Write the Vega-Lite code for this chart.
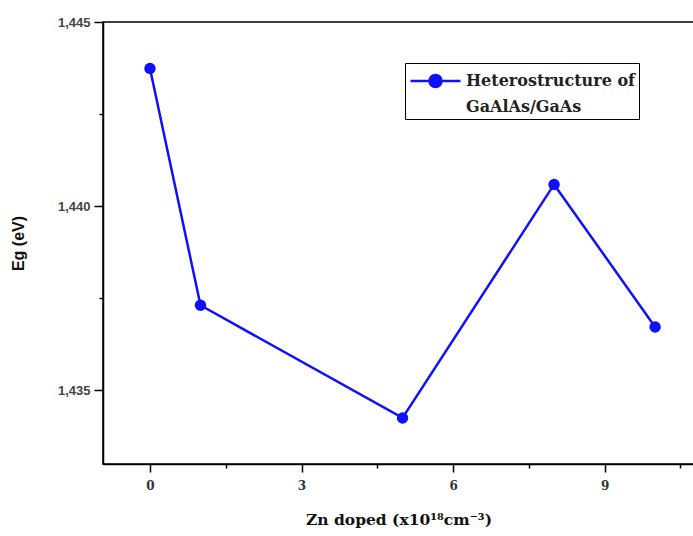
{
  "$schema": "https://vega.github.io/schema/vega-lite/v6.json",
  "autosize": {"type": "none"},
  "padding": {"left": 103, "top": 22, "right": 0, "bottom": 72},
  "width": 591,
  "height": 442,
  "background": "white",
  "config": {
    "view": {"stroke": "black", "strokeWidth": 1.5},
    "axis": {"grid": false, "domainColor": "black", "domainWidth": 1.5, "tickColor": "black", "tickWidth": 1.5}
  },
  "data": {
    "values": [
      {"zn": 0, "eg": 1.44374, "series": "Heterostructure of GaAlAs/GaAs"},
      {"zn": 1, "eg": 1.43731, "series": "Heterostructure of GaAlAs/GaAs"},
      {"zn": 5, "eg": 1.43425, "series": "Heterostructure of GaAlAs/GaAs"},
      {"zn": 8, "eg": 1.44059, "series": "Heterostructure of GaAlAs/GaAs"},
      {"zn": 10, "eg": 1.43672, "series": "Heterostructure of GaAlAs/GaAs"}
    ]
  },
  "encoding": {
    "x": {
      "field": "zn", "type": "quantitative",
      "scale": {"domain": [-0.93, 10.77], "nice": false, "zero": false},
      "axis": {
        "values": [0, 1.5, 3, 4.5, 6, 7.5, 9, 10.5],
        "labelExpr": "datum.value % 3 === 0 ? format(datum.value, 'd') : ''",
        "tickSize": {"condition": {"test": "datum.value % 3 === 0", "value": 8}, "value": 4},
        "labelFont": "DejaVu Serif", "labelFontWeight": "bold", "labelFontSize": 12, "labelColor": "#333",
        "labelPadding": 8,
        "title": "Zn doped (x10¹⁸cm⁻³)",
        "titleFont": "DejaVu Serif", "titleFontWeight": "bold", "titleFontSize": 15.5, "titleColor": "#111",
        "titlePadding": 21
      }
    },
    "y": {
      "field": "eg", "type": "quantitative",
      "scale": {"domain": [1.433, 1.445], "nice": false, "zero": false},
      "axis": {
        "values": [1.435, 1.4375, 1.44, 1.4425, 1.445],
        "labelExpr": "abs(datum.value*200 - round(datum.value*200)) < 1e-6 ? replace(format(datum.value, '.3f'), '.', ',') : ''",
        "tickSize": {"condition": {"test": "abs(datum.value*200 - round(datum.value*200)) < 1e-6", "value": 9}, "value": 4},
        "labelFont": "Liberation Sans", "labelFontWeight": "bold", "labelFontSize": 13, "labelColor": "#444",
        "labelPadding": 4,
        "title": "Eg (eV)",
        "titleFont": "Liberation Sans", "titleFontWeight": "bold", "titleFontSize": 16, "titleColor": "#111",
        "titlePadding": 31
      }
    },
    "color": {
      "field": "series", "type": "nominal",
      "scale": {"range": ["#1010ff"]},
      "legend": {
        "orient": "none", "legendX": 302, "legendY": 41,
        "title": null,
        "strokeColor": "black", "fillColor": "white",
        "padding": 4,
        "symbolType": "M -1 0 L 0.52 0 M 1.48 0 L 3 0 M 1.48 0 A 0.48 0.48 0 1 1 0.52 0 A 0.48 0.48 0 1 1 1.48 0 Z",
        "symbolSize": 625,
        "symbolStrokeWidth": 2.5,
        "symbolFillColor": "#1010ff",
        "symbolStrokeColor": "#1010ff",
        "labelExpr": "['Heterostructure of', 'GaAlAs/GaAs']",
        "labelFont": "DejaVu Serif", "labelFontWeight": "bold", "labelFontSize": 16, "labelColor": "#222",
        "labelBaseline": "middle",
        "labelOffset": 29,
        "labelLimit": 300,
        "encode": {"labels": {"update": {"lineHeight": {"value": 26}}}}
      }
    }
  },
  "layer": [
    {"mark": {"type": "line", "strokeWidth": 2.5, "color": "#1010ff"}},
    {"mark": {"type": "point", "filled": true, "size": 130, "opacity": 1, "color": "#1010ff"}}
  ]
}
